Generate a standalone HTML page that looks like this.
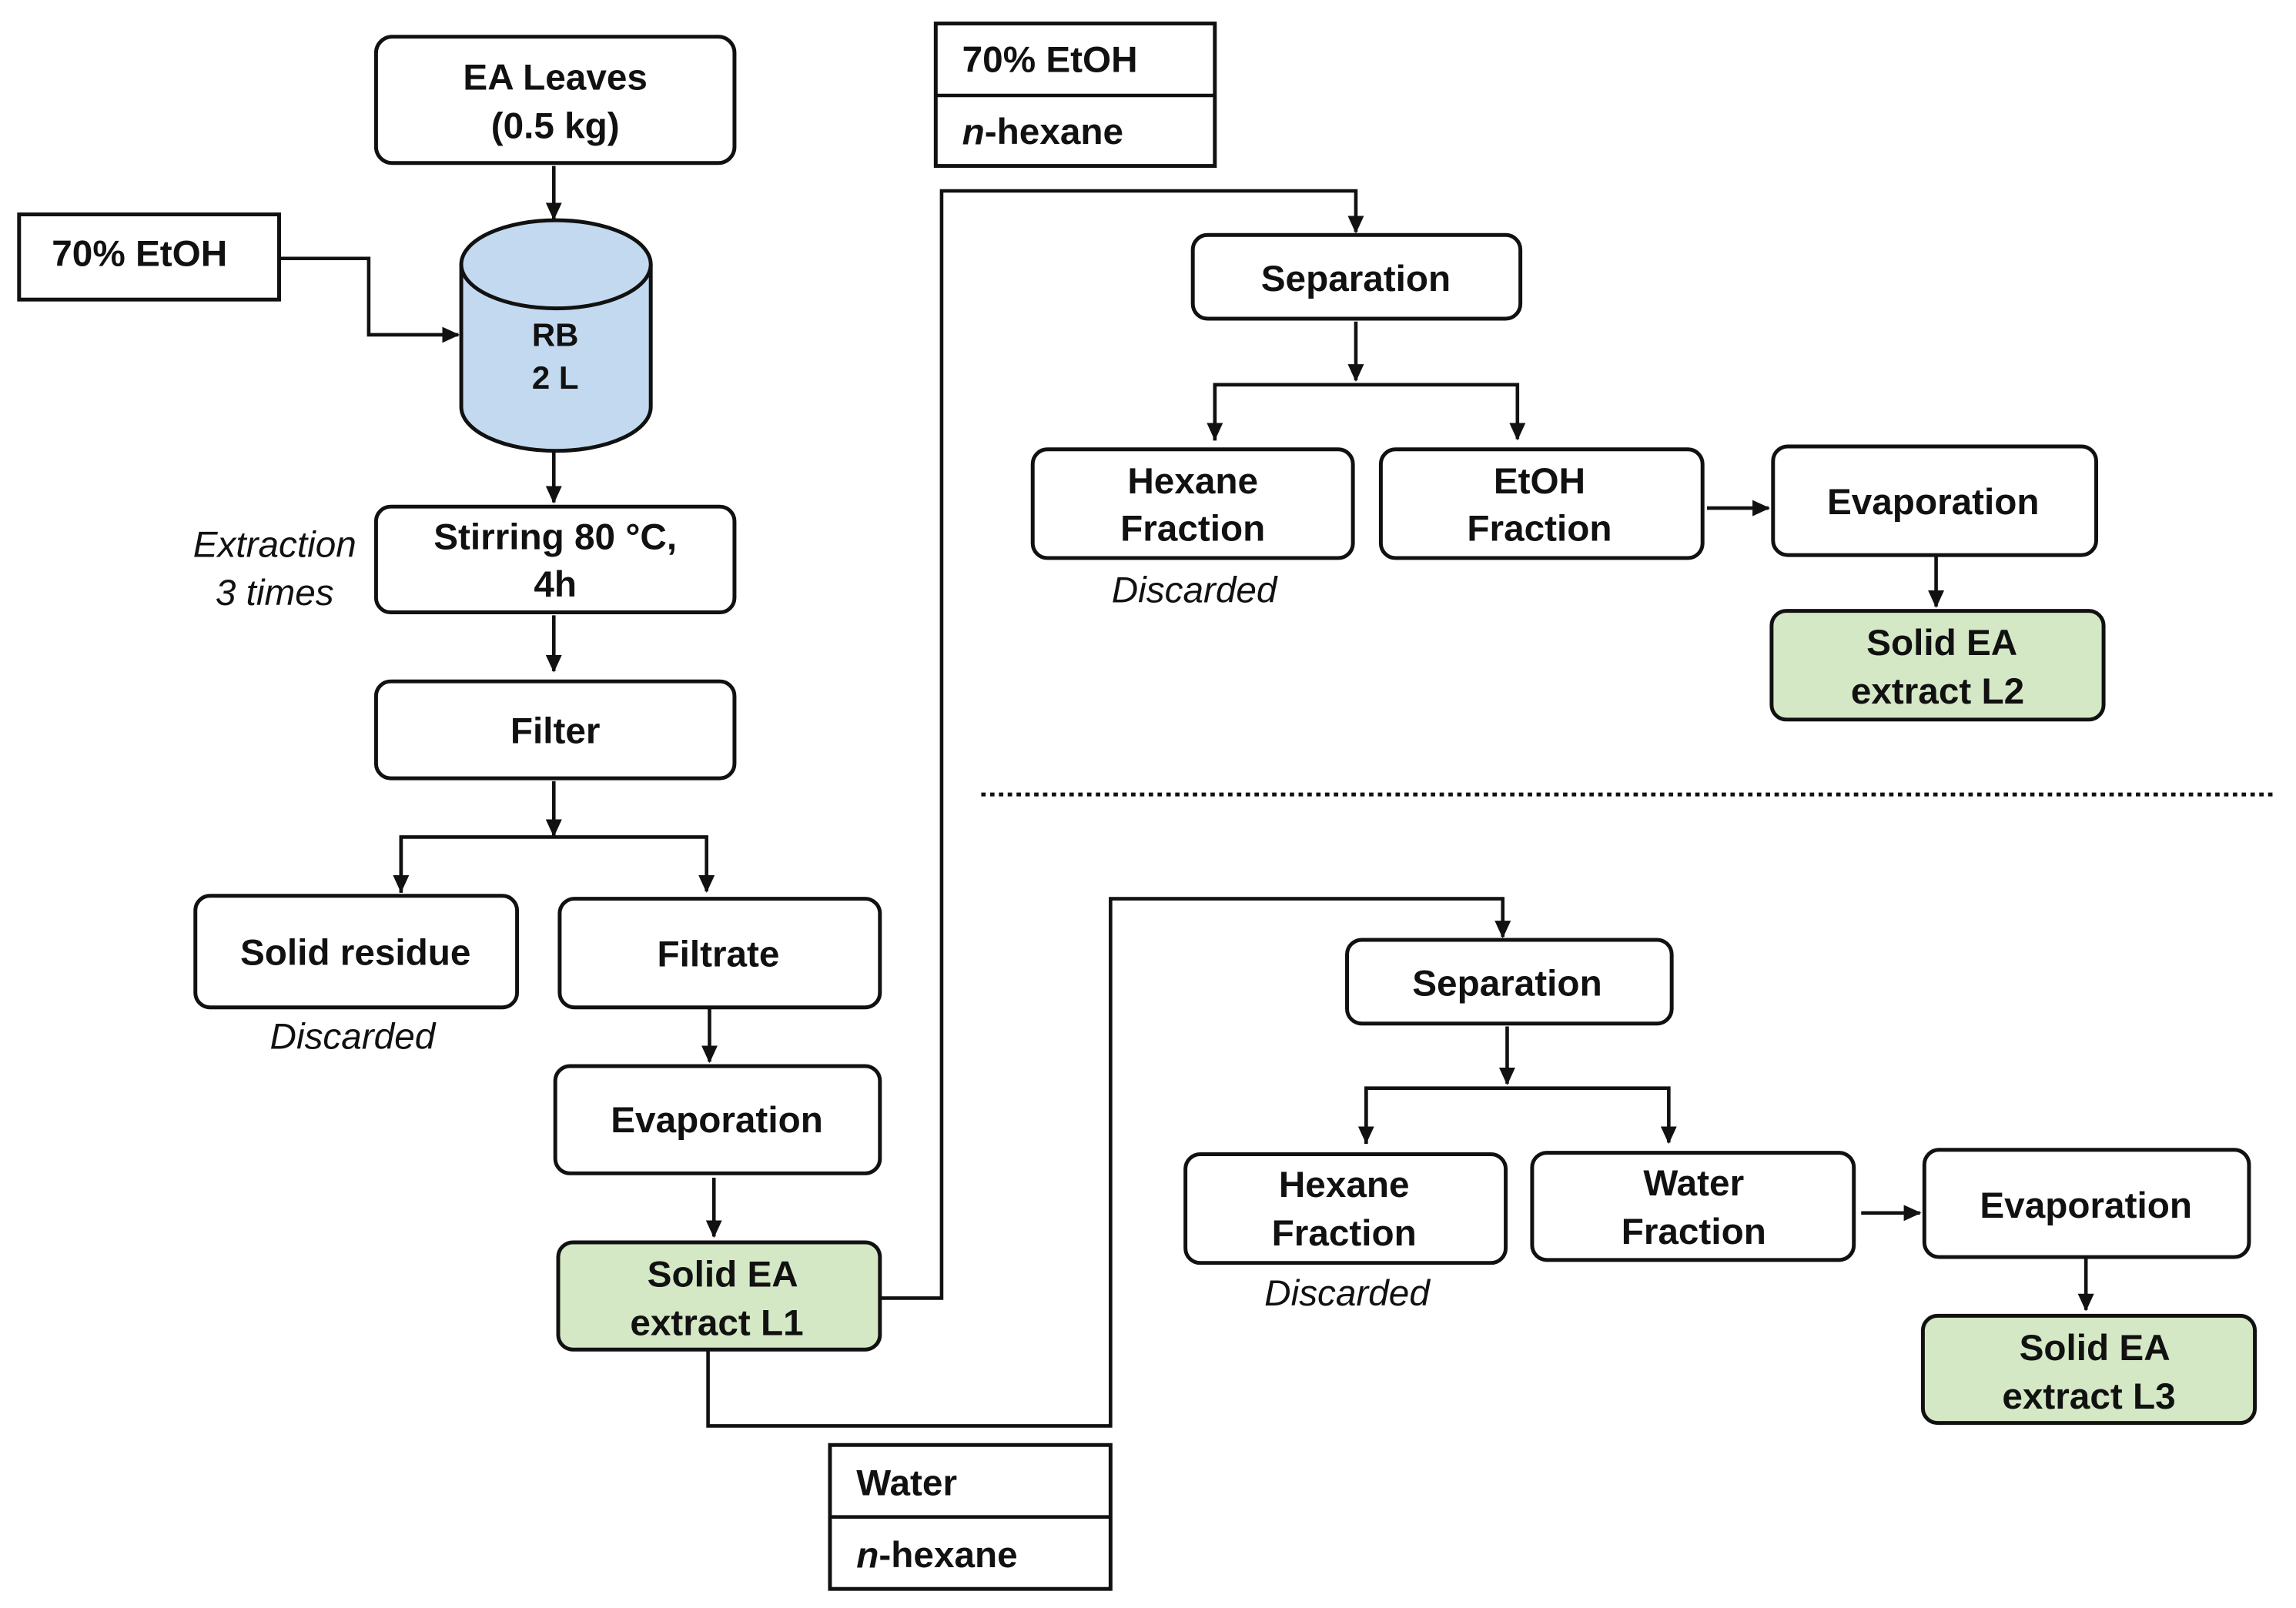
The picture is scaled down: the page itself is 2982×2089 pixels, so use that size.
<!DOCTYPE html>
<html><head><meta charset="utf-8"><style>
html,body{margin:0;padding:0;background:#fff;}
svg{display:block;}
text{font-family:"Liberation Sans","Noto Sans CJK KR",sans-serif;font-weight:bold;font-size:25px;fill:#111;text-anchor:middle;dominant-baseline:central;}
text.it{font-weight:normal;font-style:italic;font-size:25px;}
text.l{text-anchor:start;}
.b{fill:#fff;stroke:#111;stroke-width:2.6;}
.g{fill:#d5e8c6;stroke:#111;stroke-width:2.6;}
.ln{fill:none;stroke:#111;stroke-width:2.4;}
</style></head><body>
<svg width="2982" height="2089" viewBox="0 0 1563 1095" preserveAspectRatio="none" xmlns="http://www.w3.org/2000/svg">
<defs><marker id="a" markerWidth="12" markerHeight="12" refX="11" refY="6" orient="auto" markerUnits="userSpaceOnUse"><path d="M0,0.5 L12,6 L0,11.5 z" fill="#111"/></marker></defs>

<rect class="b" x="256" y="25" width="244" height="86" rx="11"/>
<text x="378" y="53">EA Leaves</text><text x="378" y="86">(0.5 kg)</text>
<path class="ln" d="M377,113 V149" marker-end="url(#a)"/>

<rect class="b" x="13" y="146" width="177" height="58"/>
<text x="95" y="173">70% EtOH</text>
<path class="ln" d="M190,176 H251 V228 H312" marker-end="url(#a)"/>

<path d="M314,180 V277 A64.5,30 0 0 0 443,277 V180" fill="#c3d9ef" stroke="#111" stroke-width="2.6"/>
<ellipse cx="378.5" cy="180" rx="64.5" ry="30" fill="#c3d9ef" stroke="#111" stroke-width="2.6"/>
<text x="378" y="228" style="font-size:22px">RB</text><text x="378" y="257" style="font-size:22px">2 L</text>
<path class="ln" d="M377,308 V342" marker-end="url(#a)"/>

<rect class="b" x="256" y="345" width="244" height="72" rx="10"/>
<text x="378" y="366">Stirring 80 °C,</text><text x="378" y="398">4h</text>
<text class="it" x="187" y="371">Extraction</text><text class="it" x="187" y="404">3 times</text>
<path class="ln" d="M377,419 V457" marker-end="url(#a)"/>

<rect class="b" x="256" y="464" width="244" height="66" rx="10"/>
<text x="378" y="498">Filter</text>
<path class="ln" d="M377,532 V569" marker-end="url(#a)"/>
<path class="ln" d="M273,608 V570 H481 V607" marker-end="url(#a)"/>
<path class="ln" d="M273,570 V607" marker-end="url(#a)"/>

<rect class="b" x="133" y="610" width="219" height="76" rx="10"/>
<text x="242" y="649">Solid residue</text>
<text class="it" x="240" y="706">Discarded</text>
<rect class="b" x="381" y="612" width="218" height="74" rx="10"/>
<text x="489" y="650">Filtrate</text>
<path class="ln" d="M483,687 V723" marker-end="url(#a)"/>

<rect class="b" x="378" y="726" width="221" height="73" rx="10"/>
<text x="488" y="763">Evaporation</text>
<path class="ln" d="M486,802 V842" marker-end="url(#a)"/>

<rect class="g" x="380" y="846" width="219" height="73" rx="10"/>
<text x="492" y="868">Solid EA</text><text x="488" y="901">extract L1</text>

<path class="ln" d="M600,884 H641 V130 H923 V158" marker-end="url(#a)"/>
<rect class="b" x="637" y="16" width="190" height="97"/>
<line class="ln" x1="637" y1="65" x2="827" y2="65"/>
<text class="l" x="655" y="41">70% EtOH</text>
<text class="l" x="655" y="90"><tspan font-style="italic">n</tspan>-hexane</text>

<rect class="b" x="812" y="160" width="223" height="57" rx="10"/>
<text x="923" y="190">Separation</text>
<path class="ln" d="M923,219 V259" marker-end="url(#a)"/>
<path class="ln" d="M827,300 V262 H1033 V299" marker-end="url(#a)"/>
<path class="ln" d="M827,262 V299" marker-end="url(#a)"/>

<rect class="b" x="703" y="306" width="218" height="74" rx="10"/>
<text x="812" y="328">Hexane</text><text x="812" y="360">Fraction</text>
<text class="it" x="813" y="402">Discarded</text>
<rect class="b" x="940" y="306" width="219" height="74" rx="10"/>
<text x="1048" y="328">EtOH</text><text x="1048" y="360">Fraction</text>
<path class="ln" d="M1162,346 H1204" marker-end="url(#a)"/>
<rect class="b" x="1207" y="304" width="220" height="74" rx="10"/>
<text x="1316" y="342">Evaporation</text>
<path class="ln" d="M1318,379 V413" marker-end="url(#a)"/>
<rect class="g" x="1206" y="416" width="226" height="74" rx="10"/>
<text x="1322" y="438">Solid EA</text><text x="1319" y="471">extract L2</text>

<line x1="668" y1="541" x2="1550" y2="541" stroke="#111" stroke-width="2.6" stroke-dasharray="3,3"/>

<path class="ln" d="M482,920 V971 H756 V612 H1023 V638" marker-end="url(#a)"/>
<rect class="b" x="565" y="984" width="191" height="98"/>
<line class="ln" x1="565" y1="1033" x2="756" y2="1033"/>
<text class="l" x="583" y="1010">Water</text>
<text class="l" x="583" y="1059"><tspan font-style="italic">n</tspan>-hexane</text>

<rect class="b" x="917" y="640" width="221" height="57" rx="10"/>
<text x="1026" y="670">Separation</text>
<path class="ln" d="M1026,699 V738" marker-end="url(#a)"/>
<path class="ln" d="M930,779 V741 H1136 V778" marker-end="url(#a)"/>
<path class="ln" d="M930,741 V778" marker-end="url(#a)"/>

<rect class="b" x="807" y="786" width="218" height="74" rx="10"/>
<text x="915" y="807">Hexane</text><text x="915" y="840">Fraction</text>
<text class="it" x="917" y="881">Discarded</text>
<rect class="b" x="1043" y="785" width="219" height="73" rx="10"/>
<text x="1153" y="806">Water</text><text x="1153" y="839">Fraction</text>
<path class="ln" d="M1267,826 H1307" marker-end="url(#a)"/>
<rect class="b" x="1310" y="783" width="221" height="73" rx="10"/>
<text x="1420" y="821">Evaporation</text>
<path class="ln" d="M1420,857 V892" marker-end="url(#a)"/>
<rect class="g" x="1309" y="896" width="226" height="73" rx="10"/>
<text x="1426" y="918">Solid EA</text><text x="1422" y="951">extract L3</text>
</svg>
</body></html>
